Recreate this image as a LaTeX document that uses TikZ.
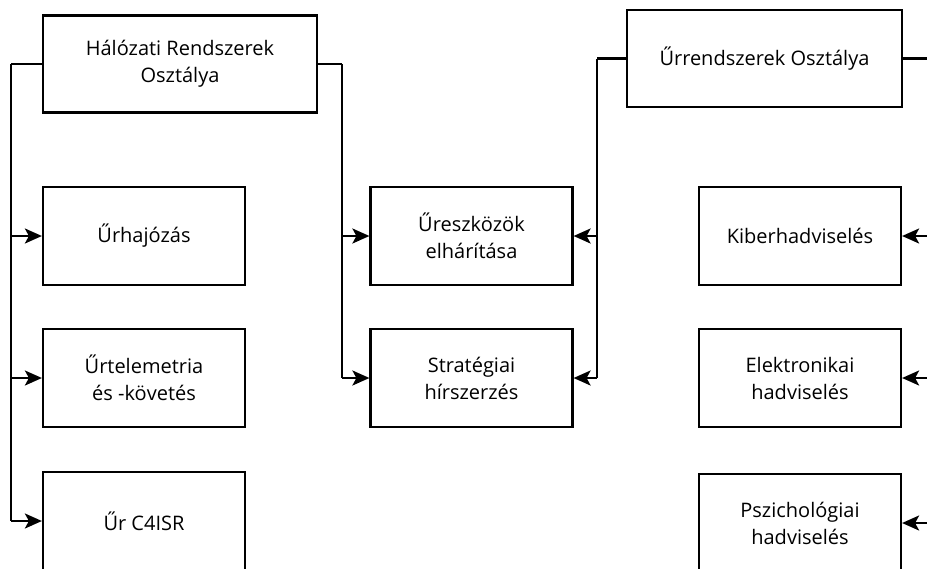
\documentclass[tikz,border=0pt]{standalone}
\usepackage{fontspec}
\setmainfont{Open Sans}
\usetikzlibrary{arrows.meta}
\usetikzlibrary{calc}
\usetikzlibrary{positioning}

\begin{document}
\begin{tikzpicture}[x=1pt,y=-1pt,>={Stealth[length=17pt,width=15pt,inset=4pt]},line width=2.2pt]
	\tikzstyle{unit}=[draw, rectangle, line width=2.2pt, minimum width=202pt, minimum height=98pt, align=center, font=\fontsize{20}{27}\selectfont, inner sep=0pt]
	\clip (0,0) rectangle (927,568);
	\node[unit, minimum width=274pt, minimum height=97pt] (hal) at (180,64)   {Hálózati Rendszerek\\Osztálya};
	\node[unit] (urh) at (144,236)   {Űrhajózás};
	\node[unit] (urt) at (144,378)   {Űrtelemetria\\és -követés};
	\node[unit] (c4)  at (144,521)   {Űr C4ISR};
	\node[unit] (ure) at (471.5,236) {Űreszközök\\elhárítása};
	\node[unit] (str) at (471.5,378) {Stratégiai\\hírszerzés};
	\node[unit, minimum width=275pt, minimum height=97pt] (urr) at (764.5,58.5) {Űrrendszerek Osztálya};
	\node[unit] (kib) at (800,236)   {Kiberhadviselés};
	\node[unit] (ele) at (800,378)   {Elektronikai\\hadviselés};
	\node[unit] (psz) at (800,523)   {Pszichológiai\\hadviselés};
	\coordinate (ls) at (11,0);
	\coordinate (ms) at (342,0);
	\coordinate (ns) at (597,0);
	\coordinate (rs) at (945,0);
	\path[->]
		(hal.west) edge[-] (hal.west -| ls)
		(hal.west -| ls) edge[-] (c4.west -| ls)
		(urh.west -| ls) edge (urh.west)
		(urt.west -| ls) edge (urt.west)
		(c4.west -| ls) edge (c4.west)
		(hal.east) edge[-] (hal.east -| ms)
		(hal.east -| ms) edge[-] (str.west -| ms)
		(ure.west -| ms) edge (ure.west)
		(str.west -| ms) edge (str.west)
		(urr.west) edge[-] (urr.west -| ns)
		(urr.west -| ns) edge[-] (str.east -| ns)
		(ure.east -| ns) edge (ure.east)
		(str.east -| ns) edge (str.east)
		(urr.east) edge[-] (urr.east -| rs)
		(urr.east -| rs) edge[-] (psz.east -| rs)
		(kib.east -| rs) edge (kib.east)
		(ele.east -| rs) edge (ele.east)
		(psz.east -| rs) edge (psz.east);
\end{tikzpicture}
\end{document}
